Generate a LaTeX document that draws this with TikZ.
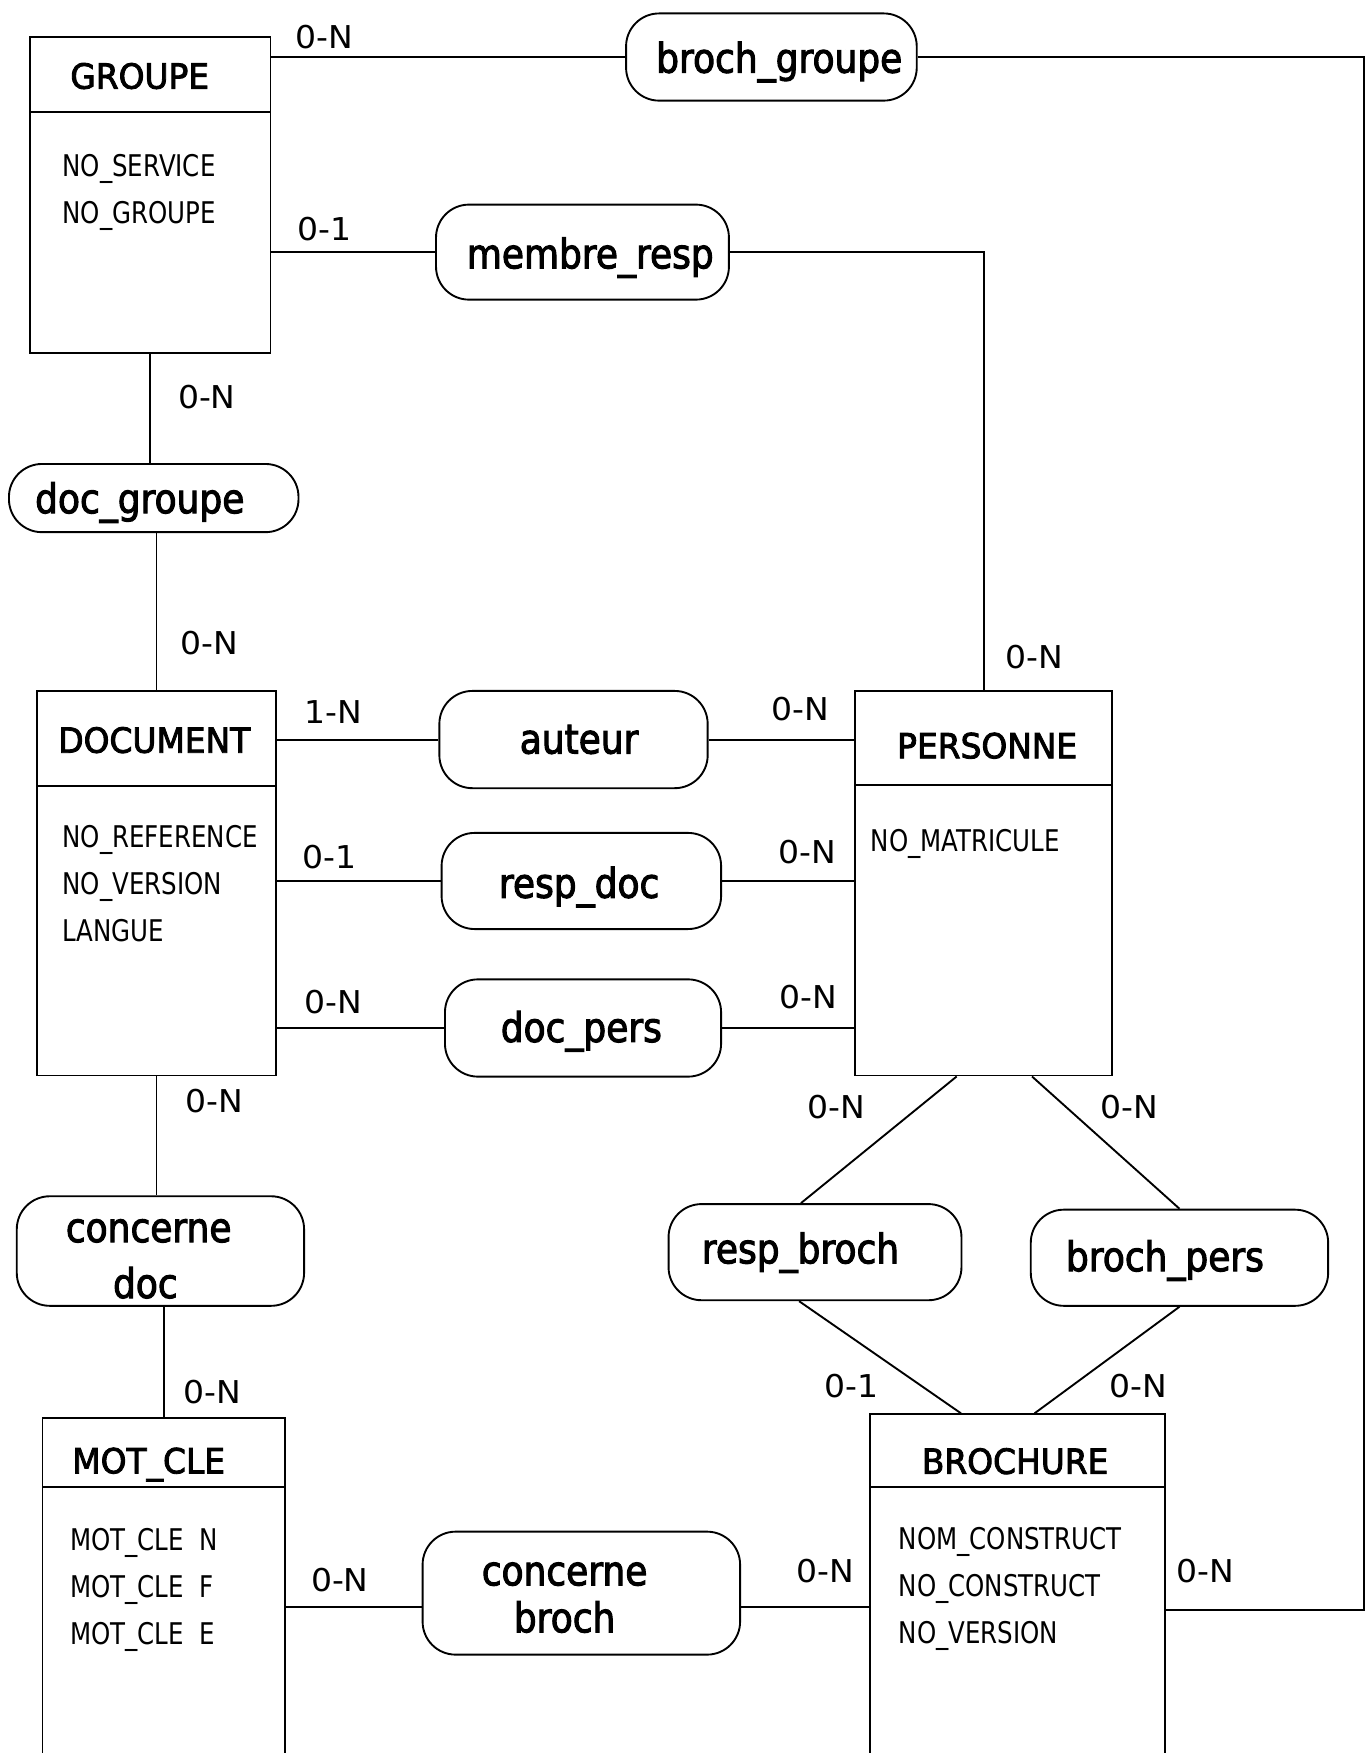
\documentclass[tikz,border=0pt]{standalone}
\usepackage{fontspec}
\setmainfont{DejaVu Sans}
\newfontfamily\entfont[FakeStretch=0.95,FakeBold=2.5]{DejaVu Sans}
\newfontfamily\relfont[FakeStretch=0.88,FakeBold=2.5]{DejaVu Sans}
\newfontfamily\attfont[FakeStretch=0.82]{DejaVu Sans}
\newfontfamily\cardfont[FakeStretch=1.05]{DejaVu Sans}
\usetikzlibrary{fit}

\tikzset{
  entity/.style={draw, inner sep=0pt},
  relation/.style={draw, rounded corners=10.5pt, inner sep=0pt},
  reltext/.style={font=\relfont\fontsize{13}{16}\selectfont, anchor=base, inner sep=0pt},
  enttitle/.style={font=\entfont\fontsize{11}{13}\selectfont},
  attr/.style={font=\attfont\fontsize{9.5}{15}\selectfont, align=left, anchor=base west, inner sep=0pt},
  card/.style={font=\cardfont\fontsize{10}{12}\selectfont, inner sep=0pt}
}

\begin{document}
\begin{tikzpicture}[x=0.0125cm, y=-0.0125cm, line width=0.6pt]
  \useasboundingbox (0,0) rectangle (1227,1568);
  \clip (0,0) rectangle (1227,1568);

  % entites
  \node[entity, fit={(27,33) (242,316)}] (groupe) {};
  \node[entity, fit={(33,618) (247,962)}] (document) {};
  \node[entity, fit={(765,618) (995,962)}] (personne) {};
  \node[entity, fit={(38,1268) (255,1606)}] (motcle) {};
  \node[entity, fit={(778,1265) (1042,1615)}] (brochure) {};
  \draw (27,100) -- (242,100);
  \draw (33,703) -- (247,703);
  \draw (765,702) -- (995,702);
  \draw (38,1330) -- (255,1330);
  \draw (778,1330) -- (1042,1330);

  \node[enttitle] (tgroupe) at (125,68) {GROUPE};
  \node[enttitle] (tdocument) at (138,662) {DOCUMENT};
  \node[enttitle] (tpersonne) at (883,667) {PERSONNE};
  \node[enttitle] (tmotcle) at (133,1310) {MOT\_CLE};
  \node[enttitle] (tbrochure) at (908,1307) {BROCHURE};

  % attributs (ancre sur la derniere ligne)
  \node[attr] (agroupe) at (55,200) {NO\_SERVICE\\NO\_GROUPE};
  \node[attr] (adocument) at (55,842) {NO\_REFERENCE\\NO\_VERSION\\LANGUE};
  \node[attr] (apersonne) at (778,762) {NO\_MATRICULE};
  \node[attr] (amotcle) at (62,1471) {MOT\_CLE\enspace N\\MOT\_CLE\enspace F\\MOT\_CLE\enspace E};
  \node[attr] (abrochure) at (803,1470) {NOM\_CONSTRUCT\\NO\_CONSTRUCT\\NO\_VERSION};

  % associations
  \node[relation, fit={(560,12) (820,90)}] (brochgroupe) {};
  \node[relation, fit={(390,183) (652,268)}] (membreresp) {};
  \node[relation, fit={(8,415) (267,476)}] (docgroupe) {};
  \node[relation, fit={(393,618) (633,705)}] (auteur) {};
  \node[relation, fit={(395,745) (645,831)}] (respdoc) {};
  \node[relation, fit={(398,876) (645,963)}] (docpers) {};
  \node[relation, fit={(15,1070) (272,1168)}] (concernedoc) {};
  \node[relation, fit={(598,1077) (860,1163)}] (respbroch) {};
  \node[relation, fit={(922,1082) (1188,1168)}] (brochpers) {};
  \node[relation, fit={(378,1370) (662,1480)}] (concernebroch) {};

  \node[reltext] (lbrochgroupe) at (697,65) {broch\_groupe};
  \node[reltext] (lmembreresp) at (528,240) {membre\_resp};
  \node[reltext] (ldocgroupe) at (125,459) {doc\_groupe};
  \node[reltext] (lauteur) at (518,674) {auteur};
  \node[reltext] (lrespdoc) at (518,803) {resp\_doc};
  \node[reltext] (ldocpers) at (520,932) {doc\_pers};
  \node[reltext] (lconcernedoca) at (133,1111) {concerne};
  \node[reltext] (lconcernedocb) at (130,1161) {doc};
  \node[reltext] (lrespbroch) at (716,1130) {resp\_broch};
  \node[reltext] (lbrochpers) at (1042,1137) {broch\_pers};
  \node[reltext] (lconcernebroa) at (505,1418) {concerne};
  \node[reltext] (lconcernebrob) at (505,1460) {broch};

  % liens
  \coordinate (rail) at (1220,51);
  \draw (groupe.east |- brochgroupe.west) -- (brochgroupe.west);
  \draw (brochgroupe.east) -| (rail) |- (brochure.east);
  \draw (groupe.east |- membreresp.west) -- (membreresp.west);
  \draw (membreresp.east) -| (personne.north);
  \draw (groupe.south) -- (groupe.south |- docgroupe.north);
  \draw (document.north |- docgroupe.south) -- (document.north);
  \draw (document.east |- auteur.west) -- (auteur.west);
  \draw (auteur.east) -- (auteur.east -| personne.west);
  \draw (document.east |- respdoc.west) -- (respdoc.west);
  \draw (respdoc.east) -- (respdoc.east -| personne.west);
  \draw (document.east |- docpers.west) -- (docpers.west);
  \draw (docpers.east) -- (docpers.east -| personne.west);
  \draw (document.south) -- (document.south |- concernedoc.north);
  \draw (motcle.north |- concernedoc.south) -- (motcle.north);
  \draw (motcle.east) -- (motcle.east -| concernebroch.west);
  \draw (concernebroch.east |- motcle.east) -- (brochure.west |- motcle.east);
  \draw (personne.262) -- (respbroch.106);
  \draw (personne.284) -- (brochpers.north);
  \draw (respbroch.252) -- (brochure.106);
  \draw (brochpers.south) -- (brochure.85);

  % cardinalites
  \node[card] (c1) at (290,33) {0-N};
  \node[card] (c2) at (290,205) {0-1};
  \node[card] (c3) at (185,355) {0-N};
  \node[card] (c4) at (187,575) {0-N};
  \node[card] (c5) at (925,588) {0-N};
  \node[card] (c6) at (298,637) {1-N};
  \node[card] (c7) at (716,634) {0-N};
  \node[card] (c8) at (295,767) {0-1};
  \node[card] (c9) at (722,762) {0-N};
  \node[card] (c10) at (298,896) {0-N};
  \node[card] (c11) at (723,892) {0-N};
  \node[card] (c12) at (192,985) {0-N};
  \node[card] (c13) at (748,990) {0-N};
  \node[card] (c14) at (1010,990) {0-N};
  \node[card] (c15) at (762,1240) {0-1};
  \node[card] (c16) at (1018,1240) {0-N};
  \node[card] (c17) at (190,1245) {0-N};
  \node[card] (c18) at (304,1413) {0-N};
  \node[card] (c19) at (738,1405) {0-N};
  \node[card] (c20) at (1078,1405) {0-N};
\end{tikzpicture}
\end{document}
